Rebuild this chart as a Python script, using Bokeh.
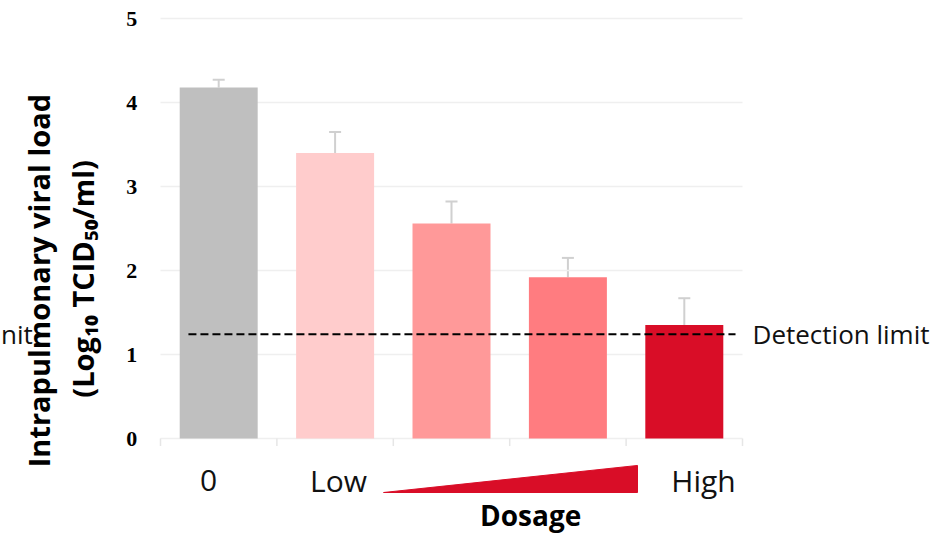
import numpy as np
from bokeh.plotting import figure
from bokeh.models import Range1d, ColumnDataSource, Whisker, TeeHead
from bokeh.core.properties import value
from bokeh.embed import file_html
from bokeh.resources import INLINE

# ---- data ----
groups = ["0", "Dose 1", "Dose 2", "Dose 3", "Dose 4"]
viral_load = [4.18, 3.40, 2.56, 1.92, 1.35]
error_up = [0.09, 0.25, 0.26, 0.23, 0.32]
detection_limit = 1.24
y_ticks = [0, 1, 2, 3, 4, 5]
y_tick_labels = ["0", "1", "2", "3", "4", "5"]
bar_colors = ["#bfbfbf", "#ffcccc", "#ff9999", "#ff7c80", "#d90d27"]
cat_texts = ["0", "Low", "High"]

SANS = "Open Sans"
W, H = 942, 535
PX_X, PX_Y = 116.4, 84.0      # pixels per data unit
X0_PX, Y0_PX = 160, 438       # page position of data origin

p = figure(width=W, height=H, output_backend="svg", toolbar_location=None,
           x_range=Range1d(-X0_PX / PX_X, (W - X0_PX) / PX_X),
           y_range=Range1d((Y0_PX - H) / PX_Y, Y0_PX / PX_Y),
           x_axis_location=None, y_axis_location=None,
           min_border_left=0, min_border_right=0, min_border_top=0, min_border_bottom=0)
p.outline_line_color = None
p.xgrid.visible = False
p.ygrid.visible = False
p.background_fill_color = "white"
p.border_fill_color = "white"

n = len(groups)
xs = np.arange(n) + 0.5

# horizontal gridlines
p.segment(x0=[0] * len(y_ticks), y0=y_ticks, x1=[n] * len(y_ticks), y1=y_ticks,
          line_color="#efefef", line_width=1.5)

# y tick labels
p.text(x=[-0.2] * len(y_ticks), y=y_ticks, text=y_tick_labels,
       text_font=value("Liberation Serif"), text_font_style="bold",
       text_font_size="22px", text_color="#000000",
       text_align="right", text_baseline="middle")

# category separator ticks below the zero line
edges = np.arange(n + 1)
p.segment(x0=edges, y0=0, x1=edges, y1=-0.09, line_color="#e6e6e6", line_width=1.5)

# bars
p.vbar(x=xs, top=viral_load, bottom=0, width=0.67, fill_color=bar_colors, line_color=None)

# error bars
upper = [v + e for v, e in zip(viral_load, error_up)]
src = ColumnDataSource(dict(x=xs, lower=viral_load, upper=upper))
w = Whisker(source=src, base="x", lower="lower", upper="upper", dimension="height",
            line_color="#d0d0d0", line_width=2,
            upper_head=TeeHead(size=12, line_color="#d0d0d0", line_width=2),
            lower_head=None)
p.add_layout(w)

# detection limit line
p.line(x=[0.24, 4.94], y=[detection_limit, detection_limit],
       line_color="black", line_width=2, line_dash="8 4")

p.text(x=[5.086], y=[detection_limit], text=["Detection limit"],
       text_font=value(SANS), text_font_size="26px", text_color="#111111",
       text_align="left", text_baseline="middle")
# fragment visible at far left in the reference
p.text(x=[-X0_PX / PX_X + 0.005], y=[detection_limit], text=["nit"],
       text_font=value(SANS), text_font_size="26px", text_color="#111111",
       text_align="left", text_baseline="middle")

# category labels
cat_x = [0.412, 1.53, 4.665]
p.text(x=cat_x, y=[-0.5] * len(cat_x), text=cat_texts,
       text_font=value(SANS), text_font_size="30px", text_color="#111111",
       text_align="center", text_baseline="middle")

# dosage wedge
p.patch(x=[1.916, 4.098, 4.098], y=[-0.643, -0.321, -0.643],
        fill_color="#d90d27", line_color="#d90d27")

p.text(x=[3.18], y=[-0.91], text=["Dosage"], text_font=value(SANS),
       text_font_size="28px", text_font_style="bold", text_color="#000000",
       text_align="center", text_baseline="middle")

# y title (two lines, rotated)
p.text(x=[(38 - X0_PX) / PX_X, (82 - X0_PX) / PX_X], y=[1.88, 1.9],
       text=["Intrapulmonary viral load", "(Log\u2081\u2080 TCID\u2085\u2080/ml)"],
       angle=np.pi / 2, text_font=value(SANS), text_font_size="29px",
       text_font_style="bold", text_color="#000000",
       text_align="center", text_baseline="middle")

open("out.html", "w").write(file_html(p, INLINE))
